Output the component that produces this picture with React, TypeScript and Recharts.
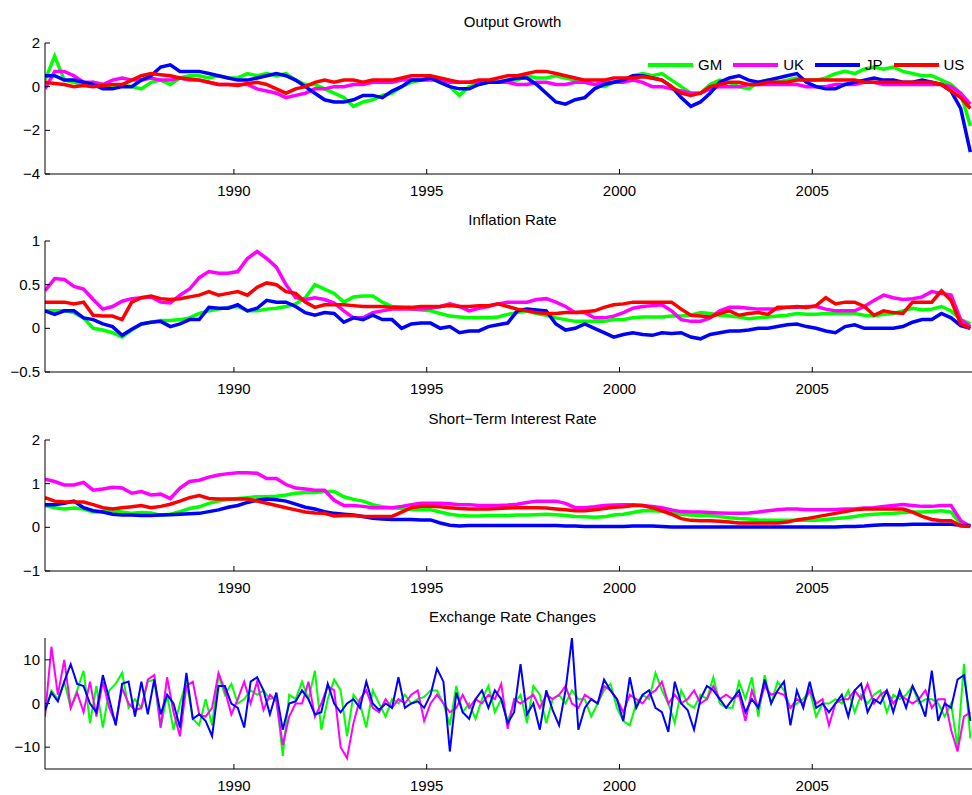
import { LineChart, Line, XAxis, YAxis, Legend } from "recharts";

const FONT = '"Liberation Sans", Arial, Helvetica, sans-serif';
const START = 1985.1;
const X_DOMAIN: [number, number] = [1985.1, 2009.35];
const YEAR_TICKS = [1990, 1995, 2000, 2005];

const COUNTRIES = [
  { key: "gm", name: "GM", color: "#00ff00" },
  { key: "uk", name: "UK", color: "#ff00ff" },
  { key: "jp", name: "JP", color: "#0000ff" },
  { key: "us", name: "US", color: "#ff0000" },
];

// quarterly readings, 1985.1 .. 2009.1
const growthGM = [
  0.3, 1.4, 0.3, 0.2, 0.1, 0.2, 0.1, 0.0, 0.1, 0.0, -0.1, 0.2, 0.3, 0.1, 0.4, 0.5, 0.5, 0.4, 0.5, 0.4,
  0.4, 0.6, 0.5, 0.6, 0.5, 0.6, 0.3, 0.1, 0.1, -0.1, -0.3, -0.5, -0.9, -0.7, -0.6, -0.4, -0.3, 0.0, 0.2, 0.3,
  0.4, 0.2, 0.0, -0.4, 0.0, 0.1, 0.2, 0.2, 0.3, 0.3, 0.5, 0.4, 0.4, 0.5, 0.4, 0.3, 0.2, 0.1, 0.0, 0.2,
  0.3, 0.5, 0.6, 0.5, 0.6, 0.3, 0.0, -0.3, -0.3, 0.1, 0.3, 0.2, 0.0, -0.1, 0.2, 0.3, 0.2, 0.3, 0.4, 0.3,
  0.3, 0.4, 0.6, 0.7, 0.6, 0.8, 0.9, 0.8, 0.9, 0.7, 0.6, 0.5, 0.5, 0.3, 0.1, -0.3, -1.8,
];
const growthUK = [
  -0.1, 0.7, 0.7, 0.5, 0.2, 0.2, 0.1, 0.3, 0.4, 0.3, 0.3, 0.4, 0.3, 0.3, 0.4, 0.3, 0.3, 0.2, 0.1, 0.1,
  0.1, 0.1, -0.1, -0.2, -0.3, -0.5, -0.4, -0.3, -0.1, -0.1, 0.0, 0.0, 0.1, 0.1, 0.2, 0.2, 0.2, 0.3, 0.3, 0.3,
  0.3, 0.3, 0.2, 0.2, 0.2, 0.2, 0.2, 0.2, 0.2, 0.1, 0.1, 0.2, 0.2, 0.1, 0.1, 0.2, 0.2, 0.1, 0.2, 0.2,
  0.2, 0.3, 0.2, 0.0, 0.0, -0.1, -0.2, -0.3, -0.3, -0.1, 0.0, 0.0, 0.0, 0.1, 0.1, 0.1, 0.1, 0.1, 0.1, 0.0,
  0.0, 0.0, 0.1, 0.1, 0.1, 0.2, 0.2, 0.1, 0.1, 0.1, 0.1, 0.1, 0.1, 0.1, 0.0, -0.3, -0.8,
];
const growthJP = [
  0.5, 0.5, 0.3, 0.3, 0.2, 0.1, -0.1, -0.1, 0.0, 0.0, 0.3, 0.5, 0.9, 1.0, 0.7, 0.7, 0.7, 0.6, 0.5, 0.4,
  0.3, 0.3, 0.4, 0.5, 0.6, 0.5, 0.3, 0.0, -0.3, -0.6, -0.7, -0.7, -0.6, -0.4, -0.4, -0.5, -0.2, 0.0, 0.3, 0.3,
  0.4, 0.2, 0.0, -0.1, -0.1, 0.1, 0.2, 0.2, 0.3, 0.4, 0.4, 0.1, -0.3, -0.7, -0.8, -0.6, -0.5, -0.1, 0.1, 0.2,
  0.3, 0.5, 0.5, 0.4, 0.3, 0.0, -0.5, -0.9, -0.7, -0.3, 0.2, 0.4, 0.5, 0.3, 0.2, 0.3, 0.4, 0.5, 0.6, 0.2,
  0.0, -0.1, -0.1, 0.1, 0.2, 0.3, 0.4, 0.3, 0.3, 0.2, 0.2, 0.3, 0.2, 0.1, -0.2, -1.0, -3.0,
];
const growthUS = [
  0.2, 0.15, 0.1, 0.0, 0.05, 0.0, 0.05, 0.1, 0.1, 0.3, 0.5, 0.6, 0.55, 0.5, 0.4, 0.35, 0.3, 0.2, 0.1, 0.1,
  0.05, 0.15, 0.2, 0.1, -0.1, -0.3, -0.1, 0.0, 0.2, 0.3, 0.2, 0.3, 0.3, 0.2, 0.3, 0.3, 0.3, 0.4, 0.5, 0.5,
  0.5, 0.4, 0.3, 0.2, 0.2, 0.3, 0.3, 0.4, 0.5, 0.5, 0.6, 0.7, 0.7, 0.6, 0.5, 0.4, 0.3, 0.3, 0.3, 0.4,
  0.4, 0.4, 0.45, 0.4, 0.3, 0.0, -0.3, -0.4, -0.3, 0.0, 0.1, 0.2, 0.2, 0.1, 0.1, 0.2, 0.2, 0.2, 0.3, 0.3,
  0.3, 0.3, 0.3, 0.3, 0.3, 0.2, 0.2, 0.2, 0.2, 0.2, 0.2, 0.2, 0.2, 0.1, -0.2, -0.5, -1.0,
];

const inflGM = [
  0.2, 0.2, 0.2, 0.18, 0.12, 0.0, -0.02, -0.05, -0.1, -0.02, 0.05, 0.07, 0.09, 0.09, 0.1, 0.12, 0.17, 0.2, 0.22, 0.24,
  0.25, 0.2, 0.2, 0.22, 0.23, 0.25, 0.28, 0.35, 0.5, 0.45, 0.4, 0.3, 0.36, 0.37, 0.37, 0.3, 0.25, 0.24, 0.22, 0.21,
  0.2, 0.17, 0.14, 0.13, 0.12, 0.12, 0.12, 0.13, 0.16, 0.18, 0.2, 0.17, 0.15, 0.12, 0.1, 0.08, 0.08, 0.08, 0.08, 0.1,
  0.1, 0.12, 0.13, 0.13, 0.13, 0.14, 0.14, 0.15, 0.18, 0.17, 0.15, 0.14, 0.13, 0.11, 0.12, 0.13, 0.14, 0.15, 0.17, 0.16,
  0.16, 0.17, 0.17, 0.17, 0.17, 0.15, 0.14, 0.16, 0.17, 0.2, 0.23, 0.21, 0.22, 0.25, 0.2, 0.1, 0.05,
];
const inflUK = [
  0.43, 0.57, 0.56, 0.48, 0.45, 0.33, 0.22, 0.25, 0.31, 0.34, 0.35, 0.36, 0.3, 0.29, 0.38, 0.45, 0.58, 0.65, 0.63, 0.63,
  0.65, 0.8, 0.88, 0.8, 0.7, 0.5, 0.35, 0.33, 0.35, 0.33, 0.29, 0.2, 0.12, 0.12, 0.18, 0.2, 0.22, 0.22, 0.22, 0.22,
  0.23, 0.25, 0.28, 0.25, 0.2, 0.23, 0.25, 0.28, 0.3, 0.3, 0.3, 0.33, 0.34, 0.3, 0.25, 0.18, 0.18, 0.12, 0.12, 0.14,
  0.18, 0.23, 0.25, 0.26, 0.27, 0.2, 0.1, 0.08, 0.08, 0.12, 0.2, 0.24, 0.24, 0.23, 0.22, 0.22, 0.22, 0.24, 0.24, 0.25,
  0.25, 0.22, 0.2, 0.2, 0.2, 0.25, 0.32, 0.38, 0.35, 0.33, 0.34, 0.36, 0.42, 0.4, 0.38, 0.1, 0.02,
];
const inflJP = [
  0.2, 0.16, 0.2, 0.2, 0.12, 0.1, 0.05, 0.02, -0.08, -0.01, 0.05, 0.07, 0.08, 0.02, 0.05, 0.1, 0.1, 0.24, 0.23, 0.23,
  0.27, 0.2, 0.23, 0.32, 0.3, 0.3, 0.25, 0.18, 0.15, 0.18, 0.17, 0.07, 0.12, 0.1, 0.15, 0.1, 0.1, 0.0, 0.05, 0.06,
  0.06, 0.0, 0.02, -0.05, -0.03, -0.03, 0.02, 0.04, 0.06, 0.2, 0.22, 0.21, 0.2, 0.05, -0.02, 0.0, 0.05, 0.0, -0.05, -0.1,
  -0.07, -0.05, -0.07, -0.08, -0.05, -0.06, -0.05, -0.1, -0.12, -0.07, -0.05, -0.03, -0.03, -0.02, 0.0, 0.0, 0.02, 0.04, 0.05, 0.02,
  0.0, -0.03, -0.05, 0.02, 0.04, 0.0, 0.0, 0.0, 0.0, 0.02, 0.07, 0.1, 0.1, 0.17, 0.12, 0.03, 0.0,
];
const inflUS = [
  0.3, 0.3, 0.3, 0.28, 0.3, 0.15, 0.14, 0.14, 0.1, 0.3, 0.35, 0.37, 0.34, 0.33, 0.34, 0.36, 0.38, 0.42, 0.38, 0.4,
  0.42, 0.38, 0.47, 0.52, 0.5, 0.42, 0.4, 0.3, 0.24, 0.27, 0.27, 0.27, 0.26, 0.25, 0.25, 0.25, 0.24, 0.24, 0.24, 0.25,
  0.25, 0.25, 0.26, 0.25, 0.25, 0.26, 0.26, 0.28, 0.25, 0.22, 0.2, 0.18, 0.17, 0.17, 0.18, 0.18, 0.19, 0.2, 0.24, 0.27,
  0.28, 0.3, 0.3, 0.3, 0.3, 0.3, 0.22, 0.15, 0.14, 0.13, 0.17, 0.2, 0.15, 0.17, 0.18, 0.16, 0.24, 0.24, 0.25, 0.24,
  0.26, 0.35, 0.28, 0.3, 0.3, 0.25, 0.15, 0.2, 0.18, 0.17, 0.3, 0.3, 0.3, 0.43, 0.32, 0.05, 0.0,
];

const rateGM = [
  0.5, 0.45, 0.42, 0.44, 0.42, 0.35, 0.36, 0.37, 0.35, 0.32, 0.34, 0.33, 0.28, 0.3, 0.36, 0.43, 0.47, 0.55, 0.6, 0.64,
  0.66, 0.68, 0.7, 0.7, 0.71, 0.74, 0.78, 0.8, 0.8, 0.82, 0.82, 0.7, 0.64, 0.6, 0.52, 0.47, 0.45, 0.43, 0.41, 0.4,
  0.4, 0.35, 0.3, 0.27, 0.26, 0.26, 0.27, 0.27, 0.27, 0.28, 0.28, 0.29, 0.3, 0.29, 0.27, 0.25, 0.24, 0.23, 0.24, 0.28,
  0.3, 0.34, 0.38, 0.38, 0.37, 0.35, 0.3, 0.28, 0.27, 0.27, 0.25, 0.22, 0.2, 0.19, 0.17, 0.16, 0.16, 0.16, 0.16, 0.16,
  0.16, 0.18, 0.2, 0.22, 0.25, 0.28, 0.3, 0.31, 0.32, 0.34, 0.35, 0.35, 0.36, 0.38, 0.35, 0.08, 0.03,
];
const rateUK = [
  1.1, 1.05, 0.97, 0.97, 1.03, 0.85, 0.88, 0.92, 0.9, 0.78, 0.82, 0.74, 0.76, 0.66, 0.9, 1.05, 1.08, 1.15, 1.2, 1.23,
  1.25, 1.25, 1.24, 1.12, 1.12, 0.98, 0.9, 0.88, 0.85, 0.85, 0.62, 0.5, 0.5, 0.48, 0.45, 0.45, 0.45, 0.48, 0.52, 0.55,
  0.55, 0.55, 0.54, 0.52, 0.52, 0.5, 0.5, 0.5, 0.51, 0.53, 0.57, 0.6, 0.6, 0.6, 0.55, 0.45, 0.45, 0.47, 0.5, 0.51,
  0.52, 0.52, 0.5, 0.48, 0.45, 0.4, 0.36, 0.35, 0.35, 0.34, 0.33, 0.32, 0.32, 0.33, 0.35, 0.38, 0.4, 0.42, 0.42, 0.4,
  0.4, 0.4, 0.41, 0.42, 0.42, 0.44, 0.45, 0.48, 0.5, 0.52, 0.5, 0.48, 0.48, 0.5, 0.5, 0.15, 0.02,
];
const rateJP = [
  0.52, 0.52, 0.55, 0.6, 0.45, 0.38, 0.35, 0.3, 0.28, 0.28, 0.27, 0.27, 0.28, 0.29, 0.3, 0.31, 0.32, 0.36, 0.4, 0.46,
  0.5, 0.57, 0.62, 0.65, 0.63, 0.6, 0.53, 0.46, 0.42, 0.36, 0.32, 0.3, 0.28, 0.25, 0.21, 0.19, 0.18, 0.18, 0.18, 0.17,
  0.17, 0.1, 0.05, 0.03, 0.04, 0.04, 0.04, 0.04, 0.04, 0.04, 0.04, 0.04, 0.04, 0.04, 0.03, 0.03, 0.02, 0.02, 0.02, 0.02,
  0.02, 0.03, 0.03, 0.03, 0.02, 0.01, 0.01, 0.01, 0.01, 0.01, 0.01, 0.01, 0.01, 0.01, 0.01, 0.01, 0.01, 0.01, 0.01, 0.01,
  0.01, 0.01, 0.01, 0.02, 0.02, 0.03, 0.05, 0.06, 0.06, 0.06, 0.07, 0.07, 0.07, 0.07, 0.07, 0.05, 0.04,
];
const rateUS = [
  0.68, 0.6, 0.58, 0.58, 0.58, 0.52, 0.45, 0.42, 0.45, 0.47, 0.5, 0.45, 0.48, 0.53, 0.6, 0.68, 0.73, 0.66, 0.65, 0.65,
  0.65, 0.65, 0.6, 0.55, 0.5, 0.45, 0.4, 0.35, 0.33, 0.32, 0.26, 0.27, 0.27, 0.25, 0.25, 0.25, 0.25, 0.35, 0.45, 0.48,
  0.48, 0.47, 0.45, 0.43, 0.42, 0.42, 0.42, 0.43, 0.44, 0.45, 0.45, 0.45, 0.44, 0.42, 0.4, 0.38, 0.38, 0.4, 0.43, 0.46,
  0.47, 0.5, 0.5, 0.45, 0.38, 0.3, 0.2, 0.16, 0.15, 0.15, 0.14, 0.12, 0.1, 0.1, 0.1, 0.1, 0.1, 0.12, 0.17, 0.2,
  0.24, 0.28, 0.32, 0.36, 0.4, 0.42, 0.42, 0.42, 0.42, 0.42, 0.35, 0.25, 0.18, 0.15, 0.15, 0.03, 0.02,
];

// bi-monthly readings, 1985.1 .. 2009.1
const fxGM = [
  -2, 3, 1, 5, -1, 3, 7.5, -4.5, 4, -5.5, 3, 4.5, 7, -1, 1, -1, 5, 5.5, -5.5, 2, -6, 0, 5, -3.5, -5, 1, -5, 6.5, 2, 4.5, 0, 1, 3,
  2, 3, 1, 1.5, -12, 2, 1, 5, 1, 7.5, -6, 1, 5.5, 3, -7.5, 2, 0, -5.5, 3, 0, -3, 1, 0, 2, 0, 1, 1.5, 3, 3, 0, -5, 4, -2, 0, -3.5, 1, 4,
  -2, 1, -4, 0, 2, -4.5, 4, 2, -4.5, 1, 2, 0, 3, 1, 1, -3, 0, 3, 4.5, -1, -4, -5, 0, 2, 1, 7, 3, 0, -4.5, 3, 0, -1, 2, 1, 6, 0, -1,
  -1, 5, 1, 6, -3, 6.5, 0, 5, 3, -1, 0, 1, 3, -3, 0, 0, 1, 0, 3, -2, 2, 0, 2, 3, -2, 2, 1, 2, 4, 0, 1, 1, 0, -3, 0, -10, 9, -8,
];
const fxUK = [
  -3, 13, 2, 10, -1, 2.5, -2, 5, -3, 5, -1, -4.5, 3.5, 0, -1.5, -1, 5.5, 6.5, -5.5, 6, -2, -7.5, 4, 5, -2.5, -3, -1, 7, 3, -2.5, 1, 5, 0,
  5, -1.5, 2, 0.5, -9.5, -3, 0, 0, 5, -3, 0, 4, 3, -10, -12.5, -4.5, 1, 3, -1, -2, 1, -1, 1, 0, 2, 3, -4, 0, 2, 0, -2, -1, 2, -1, 1, 0, 2,
  1, 4.5, -5.8, 1, 0, 1, 2, -1, 2, 1, 2, 4, 0, -1, 2, 1, 0, 4, 3, 1, -2, 2, 1, 0, 2, 3, 5, 0, 2, 0, 1, 3, 0, 1, 4, 1, 2,
  1, 2, -4, 3, -1, 4, 2, 2.5, 2, -1, 1, 0, 3, 0, 1, -5, 0, 1, 1, 3, 1, 4.5, 0, 2, 3, 0, 2, 1, 0, 1, 3, -1, 1, 1, -6, -11, -3, -2,
];
const fxJP = [
  -1.5, 2.5, 0.5, 5, 9, 4.5, 4, 0, -2, 6.5, 1, -5, 4.5, 5, -3, 5, -2.5, 5.5, -2.5, 2, 0, -5.5, 7, -3.5, -2.5, -4, -7.5, 4, 4, 0, -1, -5.5, 5,
  6, 3, -2.5, 2.5, -6, 0, 0.5, 3, 1, -2.5, -2, 4.5, 0, -2, 0, 1, -1, 5, 0, -1.5, 0, -1, 6, -1, 0, 0.5, -1, 2, 8, 5, -11, 2.5, -2, -3.5, 1, 3, -1,
  3, 1, -4.5, -2, 9, -2.5, 0, -6, 3, -1.5, -5, 3, 15, -6, -1, 1, 0, 5.5, 3, 1, -4, 6, -1, 2, 3, -1, -2, -6.5, 5, 0, -1.5, -6, 1, 4, 3, 1, -1,
  1, 3, -2, 1, -1, 5.5, 0, 3, 5, -5, 3, -1, 5, -1, 0, -2, 0, 2, -3, 3, 4.5, -2, 1, 0, 3, -2, 3, -1, 4, 1, -3, 7.5, -4, 0, -1, 5.5, 6.5, -4,
];

function table(step: number, cols: Record<string, number[]>) {
  const keys = Object.keys(cols);
  const n = cols[keys[0]].length;
  return Array.from({ length: n }, (_, i) => {
    const row: Record<string, number> = { t: START + i * step };
    keys.forEach((k) => (row[k] = cols[k][i]));
    return row;
  });
}

const growthData = table(0.25, { gm: growthGM, uk: growthUK, jp: growthJP, us: growthUS });
const inflData = table(0.25, { gm: inflGM, uk: inflUK, jp: inflJP, us: inflUS });
const rateData = table(0.25, { gm: rateGM, uk: rateUK, jp: rateJP, us: rateUS });
const fxData = table(1 / 6, { gm: fxGM, uk: fxUK, jp: fxJP });

const minus = (v: number) => String(v).replace("-", "\u2212");

function BottomTick({ x, y, payload }: any) {
  return (
    <g>
      <line x1={x} x2={x} y1={y} y2={y - 5} stroke="#000" />
      <text x={x} y={y + 22} textAnchor="middle" fontSize={15} fontFamily={FONT} fill="#000">
        {payload.value}
      </text>
    </g>
  );
}

function TopTick({ x, y }: any) {
  return <line x1={x} x2={x} y1={y} y2={y + 5} stroke="#000" />;
}

function LeftTick({ x, y, payload }: any) {
  return (
    <g>
      <line x1={x} x2={x + 5} y1={y} y2={y} stroke="#000" />
      <text x={x - 5} y={y + 5} textAnchor="end" fontSize={15} fontFamily={FONT} fill="#000">
        {minus(payload.value)}
      </text>
    </g>
  );
}

// keep the series order (the default legend sorts by name)
function LegendContent({ payload }: any) {
  const items = COUNTRIES.map((c) => (payload || []).find((p: any) => p.value === c.name)).filter(Boolean);
  return (
    <div style={{ display: "flex", alignItems: "center", height: 20, fontFamily: FONT, fontSize: 15 }}>
      {items.map((p: any) => (
        <div key={p.value} style={{ display: "flex", alignItems: "center", marginRight: 11 }}>
          <div style={{ width: 45, height: 4, background: p.color, marginRight: 5 }} />
          <span style={{ lineHeight: "20px" }}>{p.value}</span>
        </div>
      ))}
    </div>
  );
}

function Panel({ title, top, data, yDomain, yTicks, series, strokeWidth, legend }: any) {
  return (
    <>
      <div
        style={{
          position: "absolute", left: 45, width: 935, top: top - 30, textAlign: "center",
          fontSize: 15, lineHeight: "18px", fontFamily: FONT, color: "#000",
        }}
      >
        {title}
      </div>
      <div style={{ position: "absolute", left: 0, top: top - 10 }}>
        <LineChart width={990} height={166} data={data} margin={{ top: 10, right: 10, bottom: 0, left: 0 }}>
          <XAxis
            xAxisId="b" dataKey="t" type="number" domain={X_DOMAIN} ticks={YEAR_TICKS} interval={0}
            allowDataOverflow height={25} tickSize={0} tickMargin={0} tickLine={false}
            axisLine={{ stroke: "#000" }} tick={<BottomTick />}
          />
          <XAxis
            xAxisId="t" orientation="top" dataKey="t" type="number" domain={X_DOMAIN} ticks={YEAR_TICKS}
            interval={0} allowDataOverflow height={0} tickSize={0} tickMargin={0} tickLine={false}
            axisLine={{ stroke: "#000" }} tick={<TopTick />}
          />
          <YAxis
            type="number" domain={yDomain} ticks={yTicks} interval={0} allowDataOverflow width={45}
            tickSize={0} tickMargin={0} tickLine={false} axisLine={{ stroke: "#000" }} tick={<LeftTick />}
          />
          {series.map((s: any) => (
            <Line
              key={s.key} xAxisId="b" type="linear" dataKey={s.key} name={s.name} stroke={s.color}
              strokeWidth={strokeWidth} dot={false} isAnimationActive={false}
            />
          ))}
          {legend && (
            <Legend
              layout="horizontal" verticalAlign="middle" align="center"
              wrapperStyle={{ top: 22, left: 648, width: 340, height: 20 }}
              content={<LegendContent />}
            />
          )}
        </LineChart>
      </div>
    </>
  );
}

export default function App() {
  return (
    <div
      style={{
        position: "absolute", left: 0, top: 0, width: 972, height: 795,
        overflow: "hidden", background: "#fff",
      }}
    >
      <Panel title="Output Growth" top={43} data={growthData} yDomain={[-4, 2]} yTicks={[-4, -2, 0, 2]}
        series={COUNTRIES} strokeWidth={3.5} legend />
      <Panel title="Inflation Rate" top={241} data={inflData} yDomain={[-0.5, 1]} yTicks={[-0.5, 0, 0.5, 1]}
        series={COUNTRIES} strokeWidth={3.5} />
      <Panel title={"Short\u2212Term Interest Rate"} top={440} data={rateData} yDomain={[-1, 2]} yTicks={[-1, 0, 1, 2]}
        series={COUNTRIES} strokeWidth={3.5} />
      <Panel title="Exchange Rate Changes" top={638} data={fxData} yDomain={[-15, 15]} yTicks={[-10, 0, 10]}
        series={COUNTRIES.slice(0, 3)} strokeWidth={2} />
    </div>
  );
}
